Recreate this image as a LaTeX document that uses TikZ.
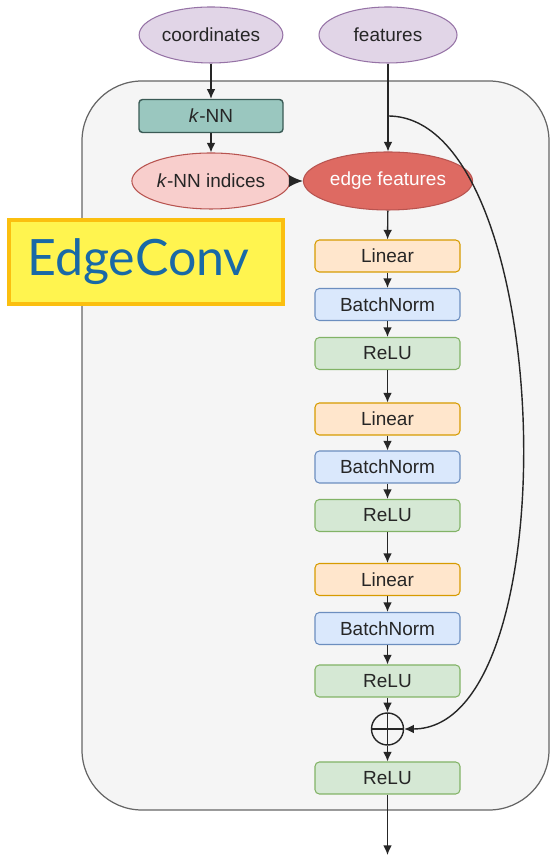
\documentclass[tikz,border=0pt]{standalone}
\usepackage{fontspec}
\setmainfont{Liberation Sans}
\newfontfamily\bannerfont{Lato}
\usepackage{tikz}
\usetikzlibrary{arrows.meta,positioning,shapes.geometric,calc}
\definecolor{frameline}{HTML}{666666}
\definecolor{framefill}{HTML}{F5F5F5}
\definecolor{inline}{HTML}{9673A6}
\definecolor{infill}{HTML}{E1D5E7}
\definecolor{knnline}{HTML}{3A5A55}
\definecolor{knnfill}{HTML}{9AC7BF}
\definecolor{idxline}{HTML}{B85450}
\definecolor{idxfill}{HTML}{F8CECC}
\definecolor{edgefill}{HTML}{DE6A62}
\definecolor{linline}{HTML}{D79B00}
\definecolor{linfill}{HTML}{FFE6CC}
\definecolor{bnline}{HTML}{6C8EBF}
\definecolor{bnfill}{HTML}{DAE8FC}
\definecolor{reline}{HTML}{82B366}
\definecolor{refill}{HTML}{D5E8D4}
\definecolor{bannerfill}{HTML}{FFF44F}
\definecolor{bannerline}{HTML}{FBBF0F}
\definecolor{bannertext}{HTML}{1969A6}

\begin{document}
\begin{tikzpicture}[
  font=\fontsize{10.8}{13}\selectfont,
  every node/.style={align=center,text=black!85},
  inp/.style={ellipse,draw=inline,fill=infill,line width=0.6pt,
              minimum width=2.76cm,minimum height=1.12cm,inner sep=1pt},
  knnbox/.style={draw=knnline,fill=knnfill,line width=0.8pt,rounded corners=2pt,
                 minimum width=2.88cm,minimum height=0.66cm,inner sep=1pt},
  idx/.style={ellipse,draw=idxline,fill=idxfill,line width=0.6pt,
              minimum width=2.74cm,minimum height=1.12cm,inner sep=1pt},
  edgef/.style={ellipse,draw=idxline,fill=edgefill,line width=0.6pt,text=white,
                minimum width=2.76cm,minimum height=1.16cm,inner sep=1pt},
  layer/.style={line width=0.6pt,rounded corners=2.5pt,
                minimum width=2.9cm,minimum height=0.64cm,inner sep=1pt},
  lin/.style={layer,draw=linline,fill=linfill},
  bn/.style={layer,draw=bnline,fill=bnfill},
  relu/.style={layer,draw=reline,fill=refill},
  sumnode/.style={circle,draw=black!85,line width=0.8pt,minimum size=0.64cm,inner sep=0pt,
                  path picture={\draw[line width=0.8pt,black!85]
                    (path picture bounding box.north) -- (path picture bounding box.south)
                    (path picture bounding box.west) -- (path picture bounding box.east);}},
  arr/.style={-{Latex[length=5.5pt,width=5pt]},line width=0.8pt,draw=black!85}
]
\useasboundingbox (0,0) rectangle (11.02,17.12);

% background block
\node[draw=frameline,fill=framefill,line width=0.7pt,rounded corners=1.2cm,
      minimum width=9.34cm,minimum height=14.58cm] (frame) at (6.31,8.21) {};

\node[inp]    (coords) at (4.22,16.42) {coordinates};
\node[inp]    (feats)  at (7.76,16.42) {features};
\node[knnbox] (knn)    at (4.22,14.80) {\textit{k}-NN};
\node[idx]    (idx)    at (4.22,13.50) {\textit{k}-NN indices};
\node[edgef]  (edge)   at (7.76,13.50) {edge features};

\node[lin]  (lin1) at (7.75,12.00) {Linear};
\node[bn]   (bn1)  at (7.75,11.03) {BatchNorm};
\node[relu] (re1)  at (7.75,10.05) {ReLU};
\node[lin]  (lin2) at (7.75,8.74)  {Linear};
\node[bn]   (bn2)  at (7.75,7.78)  {BatchNorm};
\node[relu] (re2)  at (7.75,6.81)  {ReLU};
\node[lin]  (lin3) at (7.75,5.53)  {Linear};
\node[bn]   (bn3)  at (7.75,4.55)  {BatchNorm};
\node[relu] (re3)  at (7.75,3.50)  {ReLU};
\node[sumnode] (sum) at (7.75,2.54) {};
\node[relu] (re4)  at (7.75,1.56)  {ReLU};
\coordinate (out) at (7.75,0.02);
\coordinate (split) at (feats |- knn);

% banner
\node[draw=bannerline,fill=bannerfill,line width=2.2pt,
      minimum width=5.48cm,minimum height=1.68cm,inner sep=0pt,
      font=\bannerfont\fontsize{28.5}{30}\selectfont,text=bannertext] (banner) at (2.92,11.88) {EdgeConv\hspace*{0.3cm}};

\draw[arr] (coords) -- (knn);
\draw[arr] (knn) -- (idx);
\draw[arr] (feats) -- (edge);
\draw[arr,-{Latex[length=8pt,width=7pt]}] (idx) -- (edge);
\draw[arr] (edge) -- (lin1);
\draw[arr] (lin1) -- (bn1);
\draw[arr] (bn1) -- (re1);
\draw[arr] (re1) -- (lin2);
\draw[arr] (lin2) -- (bn2);
\draw[arr] (bn2) -- (re2);
\draw[arr] (re2) -- (lin3);
\draw[arr] (lin3) -- (bn3);
\draw[arr] (bn3) -- (re3);
\draw[arr] (re3) -- (sum);
\draw[arr] (sum) -- (re4);
\draw[arr] (re4) -- (out);
\draw[arr] (split) to[out=0,in=0,looseness=0.7] (sum.east);
\end{tikzpicture}
\end{document}
